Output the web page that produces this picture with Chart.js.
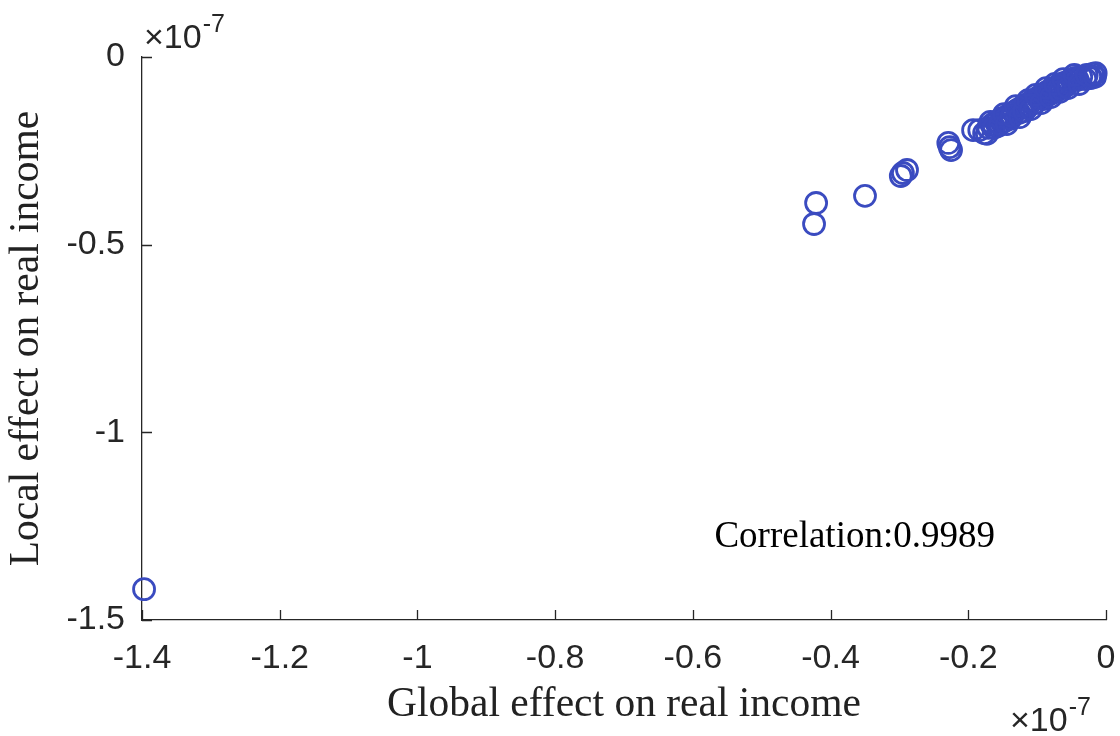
<!DOCTYPE html>
<html>
<head>
<meta charset="utf-8">
<script src="https://cdn.jsdelivr.net/npm/chart.js@4.4.1/dist/chart.umd.min.js"></script>
<style>
html,body{margin:0;padding:0;background:#fff;}
#wrap{width:1120px;height:736px;position:relative;}
</style>
</head>
<body>
<div id="wrap"><canvas id="c"></canvas></div>
<script>
// Values in units of 1e-7
const globalEffect = [
  -1.397, -0.421, -0.424, -0.350, -0.295, -0.289, -0.298, -0.229, -0.225, -0.227,
  -0.193, -0.177, -0.171, -0.166, -0.160, -0.157, -0.151, -0.147, -0.142, -0.139,
  -0.134, -0.129, -0.126, -0.122, -0.118, -0.115, -0.110, -0.106, -0.103, -0.099,
  -0.096, -0.091, -0.089, -0.084, -0.081, -0.077, -0.073, -0.070, -0.065, -0.061,
  -0.058, -0.054, -0.049, -0.045, -0.041, -0.036, -0.030, -0.023, -0.019, -0.022,
  -0.184, -0.173, -0.145, -0.112, -0.087, -0.068,
  -0.168, -0.163, -0.154, -0.148, -0.144, -0.137, -0.131, -0.125, -0.119, -0.113,
  -0.109, -0.102, -0.094, -0.087, -0.080, -0.074, -0.067, -0.062, -0.055, -0.046,
  -0.039, -0.028, -0.016, -0.015
];
const localEffect = [
  -1.418, -0.389, -0.445, -0.370, -0.309, -0.301, -0.317, -0.229, -0.248, -0.240,
  -0.195, -0.203, -0.189, -0.181, -0.173, -0.184, -0.163, -0.171, -0.155, -0.165,
  -0.147, -0.141, -0.149, -0.133, -0.128, -0.136, -0.120, -0.115, -0.123, -0.109,
  -0.104, -0.112, -0.096, -0.091, -0.099, -0.085, -0.080, -0.088, -0.075, -0.069,
  -0.077, -0.064, -0.061, -0.056, -0.061, -0.053, -0.059, -0.051, -0.045, -0.056,
  -0.195, -0.205, -0.162, -0.128, -0.101, -0.083,
  -0.173, -0.189, -0.179, -0.152, -0.179, -0.157, -0.131, -0.160, -0.144, -0.115,
  -0.139, -0.101, -0.123, -0.083, -0.107, -0.072, -0.093, -0.059, -0.083, -0.048,
  -0.072, -0.048, -0.053, -0.043
];
const xTicks = [-1.4, -1.2, -1, -0.8, -0.6, -0.4, -0.2, 0];
const yTicks = [-1.5, -1, -0.5, 0];
const exponentLabel = '-7';
const correlationText = 'Correlation:0.9989';
const correlationPos = {x: -0.365, y: -1.28};

const points = globalEffect.map((g, i) => ({x: g, y: localEffect[i]}));
const axisColor = '#262626';
const markerColor = '#3a4bc0';

const extras = {
  id: 'extras',
  afterDraw(chart) {
    const ctx = chart.ctx;
    const xs = chart.scales.x, ys = chart.scales.y;
    const ca = chart.chartArea;
    ctx.save();
    ctx.strokeStyle = axisColor;
    ctx.lineWidth = 1.3;
    const tl = 10;
    ctx.beginPath();
    xTicks.forEach(v => {
      const px = Math.round(xs.getPixelForValue(v)) + 0.5;
      ctx.moveTo(px, ys.bottom); ctx.lineTo(px, ys.bottom - tl);
    });
    yTicks.forEach(v => {
      const py = Math.round(ys.getPixelForValue(v)) + 0.5;
      ctx.moveTo(xs.left, py); ctx.lineTo(xs.left + tl, py);
    });
    ctx.stroke();
    // exponent labels
    ctx.fillStyle = axisColor;
    ctx.textBaseline = 'alphabetic';
    ctx.textAlign = 'left';
    const drawExp = (x, y) => {
      ctx.font = '34px "Liberation Sans", Arial, sans-serif';
      ctx.fillText('\u00d710', x, y);
      const w = ctx.measureText('\u00d710').width;
      ctx.font = '25px "Liberation Sans", Arial, sans-serif';
      ctx.fillText(exponentLabel, w + x + 1, y - 16);
    };
    drawExp(ca.left + 2, ca.top - 9);
    drawExp(ca.right - 96, 731);
    // correlation text
    ctx.font = '37px "Liberation Serif", "Times New Roman", serif';
    ctx.textAlign = 'center';
    ctx.textBaseline = 'middle';
    ctx.fillStyle = '#000';
    ctx.fillText(correlationText, xs.getPixelForValue(correlationPos.x), ys.getPixelForValue(correlationPos.y));
    ctx.restore();
  }
};

const fmt = v => String(Number(v.toFixed(2)));

new Chart(document.getElementById('c'), {
  type: 'scatter',
  data: {
    datasets: [{
      data: points,
      showLine: false,
      pointStyle: 'circle',
      pointRadius: 10.5,
      pointHoverRadius: 10.5,
      borderColor: markerColor,
      backgroundColor: 'rgba(0,0,0,0)',
      borderWidth: 2.8,
      clip: 20
    }]
  },
  options: {
    responsive: true,
    maintainAspectRatio: false,
    animation: false,
    events: [],
    layout: {padding: {left: 0, top: 57, right: 0, bottom: 0}},
    plugins: {legend: {display: false}, tooltip: {enabled: false}},
    scales: {
      x: {
        type: 'linear', min: -1.4, max: 0,
        afterBuildTicks: s => { s.ticks = xTicks.map(v => ({value: v})); },
        afterFit: s => { s.height = 116; s.paddingRight = 14; s.paddingLeft = 0; },
        grid: {display: false, drawTicks: false},
        border: {display: true, color: axisColor, width: 1.3},
        ticks: {color: axisColor, font: {family: '"Liberation Sans", Arial, sans-serif', size: 34}, padding: 18, maxRotation: 0, callback: fmt},
        title: {display: true, text: 'Global effect on real income', color: '#222', font: {family: '"Liberation Serif", "Times New Roman", serif', size: 41.5, lineHeight: 1.2}, padding: {top: 0, bottom: 6}}
      },
      y: {
        type: 'linear', min: -1.5, max: 0,
        afterBuildTicks: s => { s.ticks = yTicks.map(v => ({value: v})); },
        afterFit: s => { s.width = 142; },
        grid: {display: false, drawTicks: false},
        border: {display: true, color: axisColor, width: 1.3},
        ticks: {color: axisColor, font: {family: '"Liberation Sans", Arial, sans-serif', size: 34}, padding: 17, callback: fmt},
        title: {display: true, text: 'Local effect on real income', color: '#222', font: {family: '"Liberation Serif", "Times New Roman", serif', size: 41.5, lineHeight: 1.2}, padding: {top: 2, bottom: 0}}
      }
    }
  },
  plugins: [extras]
});
</script>
</body>
</html>
